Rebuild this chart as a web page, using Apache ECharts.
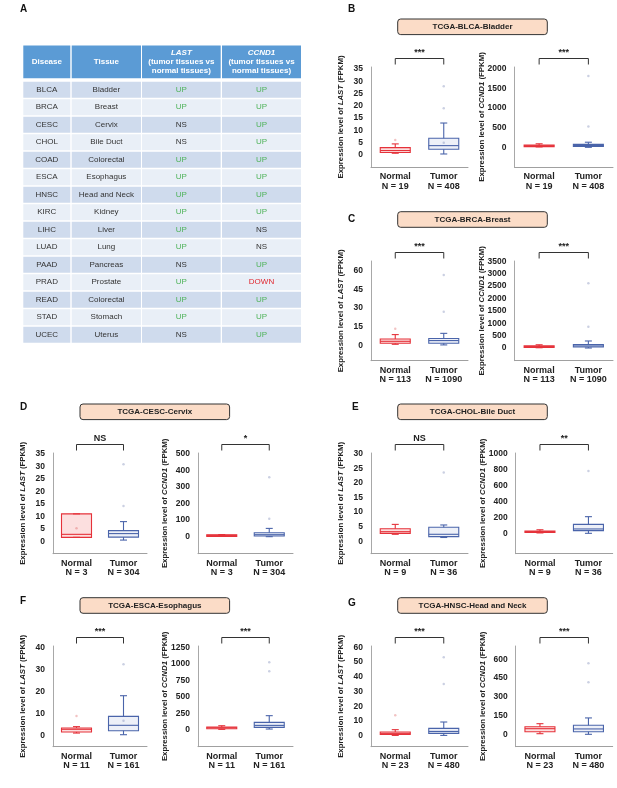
<!DOCTYPE html>
<html>
<head>
<meta charset="utf-8">
<script src="https://cdn.jsdelivr.net/npm/echarts@6/dist/echarts.min.js"></script>
<style>
  html, body { margin: 0; padding: 0; background: #fff; }
  #chart { width: 617px; height: 788px; }
</style>
</head>
<body>
<div id="chart"></div>
<script>
// ---- panel A table ----
const diseases = ['BLCA', 'BRCA', 'CESC', 'CHOL', 'COAD', 'ESCA', 'HNSC', 'KIRC', 'LIHC', 'LUAD', 'PAAD', 'PRAD', 'READ', 'STAD', 'UCEC']
const tissues = ['Bladder', 'Breast', 'Cervix', 'Bile Duct', 'Colorectal', 'Esophagus', 'Head and Neck', 'Kidney', 'Liver', 'Lung', 'Pancreas', 'Prostate', 'Colorectal', 'Stomach', 'Uterus']
const lastCalls = ['UP', 'UP', 'NS', 'NS', 'UP', 'UP', 'UP', 'UP', 'UP', 'UP', 'NS', 'UP', 'UP', 'UP', 'NS']
const ccnd1Calls = ['UP', 'UP', 'UP', 'UP', 'UP', 'UP', 'UP', 'UP', 'NS', 'NS', 'UP', 'DOWN', 'UP', 'UP', 'UP']

// ---- box plots: [min, Q1, median, Q3, max] per group, outliers as [group, value] ----
const groups = ['Normal', 'Tumor']
const panelTitles = ['TCGA-BLCA-Bladder', 'TCGA-BRCA-Breast', 'TCGA-CESC-Cervix', 'TCGA-CHOL-Bile Duct', 'TCGA-ESCA-Esophagus', 'TCGA-HNSC-Head and Neck']

const blcaN = [19, 408]
const blcaSig = ['***', '***']
const blcaLastBox = [[0.7, 1.0, 1.8, 3.0, 4.5], [0.4, 2.3, 3.8, 6.8, 13.0]]
const blcaLastOut = [[0, 6.1], [1, 5.0], [1, 19.0], [1, 28.0]]
const blcaLastTicks = [0, 5, 10, 15, 20, 25, 30, 35]
const blcaCcnd1Box = [[10, 25, 40, 55, 90], [0, 20, 45, 75, 130]]
const blcaCcnd1Out = [[1, 530], [1, 1820]]
const blcaCcnd1Ticks = [0, 500, 1000, 1500, 2000]

const brcaN = [113, 1090]
const brcaSig = ['***', '***']
const brcaLastBox = [[0.8, 1.6, 3.2, 5.1, 8.6], [0.3, 1.6, 3.8, 5.4, 9.6]]
const brcaLastOut = [[0, 13.4], [1, 27.0], [1, 56.5]]
const brcaLastTicks = [0, 15, 30, 45, 60]
const brcaCcnd1Box = [[10, 35, 55, 85, 130], [0, 40, 80, 135, 283]]
const brcaCcnd1Out = [[1, 862], [1, 2614]]
const brcaCcnd1Ticks = [0, 500, 1000, 1500, 2000, 2500, 3000, 3500]

const cescN = [3, 304]
const cescSig = ['NS', '*']
const cescLastBox = [[1.6, 1.6, 2.8, 11.0, 11.0], [0.5, 1.7, 3.1, 4.3, 7.9]]
const cescLastOut = [[0, 5.2], [1, 14.2], [1, 30.9]]
const cescLastTicks = [0, 5, 10, 15, 20, 25, 30, 35]
const cescCcnd1Box = [[5, 7, 8, 11, 13], [0, 4, 12, 24, 50]]
const cescCcnd1Out = [[1, 109], [1, 359]]
const cescCcnd1Ticks = [0, 100, 200, 300, 400, 500]

const cholN = [9, 36]
const cholSig = ['NS', '**']
const cholLastBox = [[2.4, 2.7, 3.3, 4.3, 5.8], [1.3, 1.6, 2.4, 4.8, 5.6]]
const cholLastOut = [[1, 23.6]]
const cholLastTicks = [0, 5, 10, 15, 20, 25, 30]
const cholCcnd1Box = [[5, 12, 22, 30, 45], [0, 34, 55, 113, 210]]
const cholCcnd1Out = [[1, 786]]
const cholCcnd1Ticks = [0, 200, 400, 600, 800, 1000]

const escaN = [11, 161]
const escaSig = ['***', '***']
const escaLastBox = [[1.2, 1.7, 2.9, 3.5, 4.1], [0.45, 2.26, 4.7, 8.75, 18.1]]
const escaLastOut = [[0, 8.9], [1, 6.8], [1, 32.3]]
const escaLastTicks = [0, 10, 20, 30, 40]
const escaCcnd1Box = [[10, 20, 35, 45, 65], [15, 40, 70, 116, 217]]
const escaCcnd1Out = [[1, 887], [1, 1023]]
const escaCcnd1Ticks = [0, 250, 500, 750, 1000, 1250]

const hnscN = [23, 480]
const hnscSig = ['***', '***']
const hnscLastBox = [[0.2, 0.9, 1.6, 2.5, 4.1], [0.2, 1.6, 2.9, 5.0, 9.3]]
const hnscLastOut = [[0, 13.8], [1, 35.1], [1, 53.2]]
const hnscLastTicks = [0, 10, 20, 30, 40, 50, 60]
const hnscCcnd1Box = [[5, 21, 45, 61, 85], [0, 21, 43, 72, 131]]
const hnscCcnd1Out = [[1, 416], [1, 568]]
const hnscCcnd1Ticks = [0, 150, 300, 450, 600]

const FONT = '"Liberation Sans", Arial, sans-serif'
const RED = '#e5323a'
const BLUE = '#4a64aa'
const GREEN = '#4fb35a'

let chart = echarts.init(document.getElementById('chart'))

let grids = []
let xAxes = []
let yAxes = []
let series = []
let graphics = []

// ---- table as four column grids ----
let tableCols = [
  { left: 23.3, width: 47, values: diseases, header: '{h|Disease}' },
  { left: 71.7, width: 69.3, values: tissues, header: '{h|Tissue}' },
  { left: 142, width: 78.7, values: lastCalls, header: '{hi|LAST}\n{h|(tumor tissues vs}\n{h|normal tissues)}' },
  { left: 222, width: 79, values: ccnd1Calls, header: '{hi|CCND1}\n{h|(tumor tissues vs}\n{h|normal tissues)}' },
]
tableCols.forEach((col) => {
  let g = grids.length
  grids.push({ left: col.left, top: 45.5, width: col.width, height: 298.7 })
  xAxes.push({ gridIndex: g, type: 'value', min: 0, max: 1, show: false })
  yAxes.push({ gridIndex: g, type: 'value', min: -2.07, max: 15, inverse: true, show: false })
  series.push({
    type: 'custom',
    xAxisIndex: g,
    yAxisIndex: g,
    data: col.values.map((v, i) => [i]),
    renderItem: (params, api) => {
      let i = api.value(0)
      let p0 = api.coord([0, i])
      let p1 = api.coord([1, i + 1])
      let txt = col.values[i]
      let color = txt === 'UP' ? GREEN : txt === 'DOWN' ? '#e0262e' : '#333'
      let h = p1[1] - p0[1] - 1.5
      return {
        type: 'group',
        children: [
          { type: 'rect', shape: { x: p0[0], y: p0[1], width: p1[0] - p0[0], height: h }, style: { fill: i % 2 ? '#e9eff7' : '#cfdbed' } },
          { type: 'text', style: { x: (p0[0] + p1[0]) / 2, y: p0[1] + h / 2, text: txt, fill: color, fontFamily: FONT, fontSize: 8, align: 'center', verticalAlign: 'middle' } },
        ],
      }
    },
  })
  series.push({
    type: 'custom',
    xAxisIndex: g,
    yAxisIndex: g,
    data: [[0]],
    renderItem: (params, api) => {
      let top = params.coordSys.y
      let p0 = api.coord([0, 0])
      let p1 = api.coord([1, 0])
      let h = p0[1] - 3.4 - top
      return {
        type: 'group',
        children: [
          { type: 'rect', shape: { x: p0[0], y: top, width: p1[0] - p0[0], height: h }, style: { fill: '#5b9bd5' } },
          {
            type: 'text',
            style: {
              x: (p0[0] + p1[0]) / 2, y: top + h / 2, text: col.header, align: 'center', verticalAlign: 'middle',
              rich: {
                h: { fill: '#fff', fontFamily: FONT, fontSize: 8, fontWeight: 'bold', lineHeight: 9.2, align: 'center' },
                hi: { fill: '#fff', fontFamily: FONT, fontSize: 8, fontWeight: 'bold', fontStyle: 'italic', lineHeight: 9.2, align: 'center' },
              },
            },
          },
        ],
      }
    },
  })
})

// ---- box plot panels ----
let plots = [
  { box: blcaLastBox, out: blcaLastOut, n: blcaN, sig: blcaSig[0], gene: 'LAST', ticks: blcaLastTicks, range: [-4.9, 35.8], rect: [371, 67, 97, 100] },
  { box: blcaCcnd1Box, out: blcaCcnd1Out, n: blcaN, sig: blcaSig[1], gene: 'CCND1', ticks: blcaCcnd1Ticks, range: [-503, 2051], rect: [514.5, 67, 98.5, 100] },
  { box: brcaLastBox, out: brcaLastOut, n: brcaN, sig: brcaSig[0], gene: 'LAST', ticks: brcaLastTicks, range: [-12.4, 67.8], rect: [371, 261, 97, 99.7] },
  { box: brcaCcnd1Box, out: brcaCcnd1Out, n: brcaN, sig: brcaSig[1], gene: 'CCND1', ticks: brcaCcnd1Ticks, range: [-513, 3512], rect: [514.5, 261, 98.5, 99.7] },
  { box: cescLastBox, out: cescLastOut, n: cescN, sig: cescSig[0], gene: 'LAST', ticks: cescLastTicks, range: [-4.96, 35.4], rect: [53, 453, 94, 100.7] },
  { box: cescCcnd1Box, out: cescCcnd1Out, n: cescN, sig: cescSig[1], gene: 'CCND1', ticks: cescCcnd1Ticks, range: [-103, 506], rect: [198, 453, 95, 100.7] },
  { box: cholLastBox, out: cholLastOut, n: cholN, sig: cholSig[0], gene: 'LAST', ticks: cholLastTicks, range: [-4.26, 30.3], rect: [371, 453, 97, 100.7] },
  { box: cholCcnd1Box, out: cholCcnd1Out, n: cholN, sig: cholSig[1], gene: 'CCND1', ticks: cholCcnd1Ticks, range: [-257, 1013], rect: [515.7, 453, 97, 100.7] },
  { box: escaLastBox, out: escaLastOut, n: escaN, sig: escaSig[0], gene: 'LAST', ticks: escaLastTicks, range: [-4.98, 40.6], rect: [53, 646, 94, 100.7] },
  { box: escaCcnd1Box, out: escaCcnd1Out, n: escaN, sig: escaSig[1], gene: 'CCND1', ticks: escaCcnd1Ticks, range: [-252, 1270], rect: [198, 646, 95, 100.7] },
  { box: hnscLastBox, out: hnscLastOut, n: hnscN, sig: hnscSig[0], gene: 'LAST', ticks: hnscLastTicks, range: [-7.47, 60.9], rect: [371, 646, 97, 100.7] },
  { box: hnscCcnd1Box, out: hnscCcnd1Out, n: hnscN, sig: hnscSig[1], gene: 'CCND1', ticks: hnscCcnd1Ticks, range: [-99, 706], rect: [515.7, 646, 97, 100.7] },
]

plots.forEach((p) => {
  let g = grids.length
  grids.push({ left: p.rect[0], top: p.rect[1], width: p.rect[2], height: p.rect[3] })
  xAxes.push({
    gridIndex: g,
    type: 'category',
    data: groups,
    axisLine: { onZero: false, lineStyle: { color: '#a0a0a0' } },
    axisTick: { alignWithLabel: true, length: 3, lineStyle: { color: '#a0a0a0' } },
    axisLabel: {
      interval: 0,
      hideOverlap: false,
      formatter: (v, i) => v + '\nN = ' + p.n[i],
      fontFamily: FONT, fontWeight: 'bold', fontSize: 9, lineHeight: 9.5, color: '#222', margin: 5,
    },
  })
  yAxes.push({
    gridIndex: g,
    type: 'value',
    min: p.range[0],
    max: p.range[1],
    axisLine: { show: true, lineStyle: { color: '#a8a8a8' } },
    axisTick: { show: false },
    splitLine: { show: false },
    axisLabel: { customValues: p.ticks, formatter: (v) => String(v), fontFamily: FONT, fontWeight: 'bold', fontSize: 8.5, color: '#222', margin: 8 },
    name: '{n|Expression level of }{i|' + p.gene + '}{n| (FPKM)}',
    nameLocation: 'middle',
    nameGap: p.gene === 'LAST' ? 26 : 29,
    nameMoveOverlap: false,
    nameTextStyle: {
      rich: {
        n: { fontFamily: FONT, fontWeight: 'bold', fontSize: 7.8, color: '#222' },
        i: { fontFamily: FONT, fontWeight: 'bold', fontStyle: 'italic', fontSize: 7.8, color: '#222' },
      },
    },
  })
  // boxes
  series.push({
    type: 'custom',
    xAxisIndex: g,
    yAxisIndex: g,
    data: p.box.map((b, i) => [i].concat(b)),
    renderItem: (params, api) => {
      let cat = api.value(0)
      let vals = [1, 2, 3, 4, 5].map((d) => api.value(d))
      let ys = vals.map((v) => api.coord([cat, v])[1])
      let cx = api.coord([cat, 0])[0]
      let half = 15
      let cap = 3.5
      let c = cat === 0 ? RED : BLUE
      let fill = cat === 0 ? 'rgba(240,110,110,0.22)' : 'rgba(110,130,200,0.12)'
      let line = { stroke: c, lineWidth: 1.1 }
      return {
        type: 'group',
        children: [
          { type: 'line', shape: { x1: cx, y1: ys[0], x2: cx, y2: ys[1] }, style: line },
          { type: 'line', shape: { x1: cx, y1: ys[3], x2: cx, y2: ys[4] }, style: line },
          { type: 'line', shape: { x1: cx - cap, y1: ys[0], x2: cx + cap, y2: ys[0] }, style: line },
          { type: 'line', shape: { x1: cx - cap, y1: ys[4], x2: cx + cap, y2: ys[4] }, style: line },
          { type: 'rect', shape: { x: cx - half, y: ys[3], width: half * 2, height: Math.max(ys[1] - ys[3], 1.5) }, style: { fill: fill, stroke: c, lineWidth: 1.1 } },
          { type: 'line', shape: { x1: cx - half, y1: ys[2], x2: cx + half, y2: ys[2] }, style: line },
        ],
      }
    },
  })
  // outliers
  series.push({
    type: 'scatter',
    xAxisIndex: g,
    yAxisIndex: g,
    data: p.out,
    symbolSize: 2.5,
    itemStyle: { color: (params) => (params.data[0] === 0 ? 'rgba(220,90,90,0.45)' : 'rgba(110,125,175,0.45)') },
  })
  // significance bracket
  series.push({
    type: 'custom',
    xAxisIndex: g,
    yAxisIndex: g,
    data: [[0]],
    clip: false,
    renderItem: (params, api) => {
      let x0 = api.coord([0, 0])[0]
      let x1 = api.coord([1, 0])[0]
      let top = params.coordSys.y
      return {
        type: 'group',
        children: [
          { type: 'polyline', shape: { points: [[x0, top - 2.5], [x0, top - 8.5], [x1, top - 8.5], [x1, top - 2.5]] }, style: { stroke: '#333', fill: null, lineWidth: 1 } },
          { type: 'text', style: { x: (x0 + x1) / 2, y: top - 9.5, text: p.sig, align: 'center', verticalAlign: 'bottom', fontFamily: FONT, fontWeight: 'bold', fontSize: 9, fill: '#222' } },
        ],
      }
    },
  })
})

// ---- panel letters and title boxes ----
let letters = [['A', 24, 9], ['B', 352, 9], ['C', 352, 219], ['D', 24, 407], ['E', 356, 407], ['F', 24, 601], ['G', 352, 603]]
letters.forEach((l) => {
  graphics.push({ type: 'text', left: l[1] - 4, top: l[2] - 5, style: { text: l[0], fontFamily: FONT, fontWeight: 'bold', fontSize: 10, fill: '#111' } })
})
let titleBoxes = [[397.7, 19], [397.7, 211.7], [80, 404], [397.7, 404], [80, 597.7], [397.7, 597.7]]
titleBoxes.forEach((b, i) => {
  graphics.push({
    type: 'rect',
    shape: { x: b[0], y: b[1], width: 149.6, height: 15.6, r: 3 },
    style: { fill: '#fbdcc7', stroke: '#333', lineWidth: 1 },
  })
  graphics.push({
    type: 'text',
    style: { x: b[0] + 74.8, y: b[1] + 8, text: panelTitles[i], align: 'center', verticalAlign: 'middle', fontFamily: FONT, fontWeight: 'bold', fontSize: 8, fill: '#222' },
  })
})

chart.setOption({
  animation: false,
  backgroundColor: '#fff',
  grid: grids.map((g) => Object.assign({ containLabel: false, outerBoundsMode: 'none' }, g)),
  xAxis: xAxes,
  yAxis: yAxes,
  series: series,
  graphic: graphics,
})
</script>
</body>
</html>
